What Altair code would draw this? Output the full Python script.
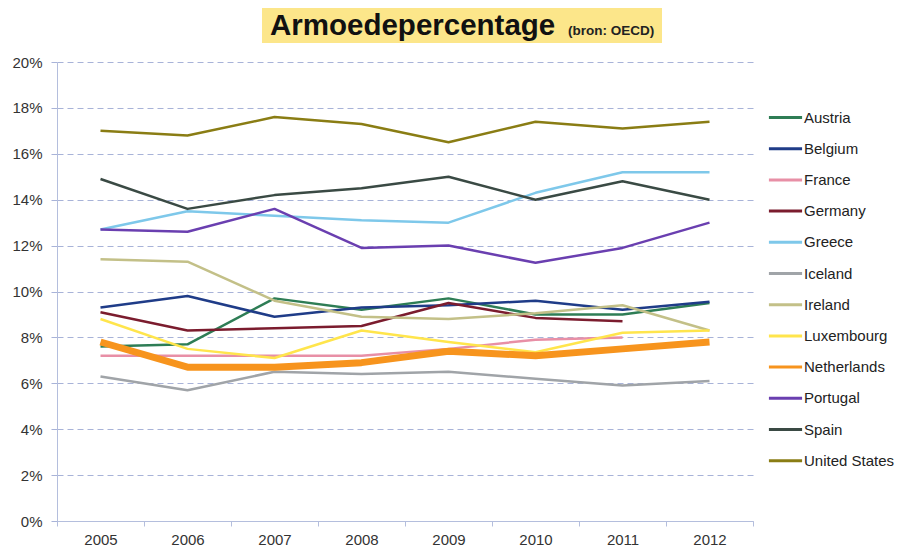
import altair as alt
import pandas as pd

years = [2005, 2006, 2007, 2008, 2009, 2010, 2011, 2012]
countries = ["Austria", "Belgium", "France", "Germany", "Greece", "Iceland",
             "Ireland", "Luxembourg", "Netherlands", "Portugal", "Spain", "United States"]
colors = ["#2E7D55", "#1F3C88", "#E88FA6", "#7B1C2E", "#7EC8EA", "#A0A4A8",
          "#C3C088", "#FFE54C", "#F7941D", "#6A3FB0", "#3A4A44", "#8A7D14"]

austria = [7.6, 7.7, 9.7, 9.2, 9.7, 9.0, 9.0, 9.5]
belgium = [9.3, 9.8, 8.9, 9.3, 9.4, 9.6, 9.2, 9.55]
france = [7.2, 7.2, 7.2, 7.2, 7.5, 7.9, 8.0, None]
germany = [9.1, 8.3, 8.4, 8.5, 9.5, 8.85, 8.7, None]
greece = [12.7, 13.5, 13.3, 13.1, 13.0, 14.3, 15.2, 15.2]
iceland = [6.3, 5.7, 6.5, 6.4, 6.5, 6.2, 5.9, 6.1]
ireland = [11.4, 11.3, 9.6, 8.9, 8.8, 9.05, 9.4, 8.3]
luxembourg = [8.8, 7.5, 7.1, 8.3, 7.8, 7.35, 8.2, 8.3]
netherlands = [7.8, 6.7, 6.7, 6.9, 7.4, 7.2, 7.5, 7.8]
portugal = [12.7, 12.6, 13.6, 11.9, 12.0, 11.25, 11.9, 13.0]
spain = [14.9, 13.6, 14.2, 14.5, 15.0, 14.0, 14.8, 14.0]
united_states = [17.0, 16.8, 17.6, 17.3, 16.5, 17.4, 17.1, 17.4]

series = [austria, belgium, france, germany, greece, iceland, ireland,
          luxembourg, netherlands, portugal, spain, united_states]

title_text = "Armoedepercentage"
source_text = "(bron: OECD)"

rows = []
for c, vals in zip(countries, series):
    for y, v in zip(years, vals):
        if v is not None:
            rows.append({"year": str(y), "country": c, "value": v})
df = pd.DataFrame(rows)

W, H = 696, 459
axis_col = "#B4BEDD"
grid_col = "#A8B3D8"

lines = alt.Chart(df).mark_line(strokeJoin="round").encode(
    x=alt.X("year:O", title=None, bandPosition=0.5,
            scale=alt.Scale(type="band", paddingInner=0, paddingOuter=0),
            axis=alt.Axis(tickBand="extent", labelAngle=0, labelFontSize=15,
                          labelColor="#333333", labelFont="Liberation Sans",
                          domainColor=axis_col, tickColor=axis_col, tickSize=5,
                          labelPadding=6, grid=False)),
    y=alt.Y("value:Q", title=None,
            scale=alt.Scale(domain=[0, 20]),
            axis=alt.Axis(values=list(range(0, 21, 2)), labelExpr="datum.value + '%'",
                          labelFontSize=15, labelColor="#333333", labelFont="Liberation Sans",
                          domainColor=axis_col, tickColor=grid_col, tickSize=7,
                          tickDash=[6, 4], labelPadding=8,
                          grid=True, gridColor=grid_col, gridDash=[6, 4], gridWidth=1)),
    color=alt.Color("country:N", sort=countries,
                    scale=alt.Scale(domain=countries, range=colors),
                    legend=alt.Legend(title=None, orient="none", legendX=710, legendY=37,
                                      symbolType="stroke", symbolSize=1100,
                                      symbolStrokeWidth=3, labelFontSize=15,
                                      labelFont="Liberation Sans", labelColor="#222222",
                                      labelOffset=0, rowPadding=4.2)),
    strokeWidth=alt.condition(alt.datum.country == "Netherlands", alt.value(7), alt.value(2.5)),
    order=alt.Order("country:N"),
)

box = alt.Chart(pd.DataFrame({"a": [0]})).mark_rect(color="#FCE68A").encode(
    x=alt.value(205), x2=alt.value(605), y=alt.value(-54), y2=alt.value(-19)
)
title = alt.Chart(pd.DataFrame({"t": [title_text]})).mark_text(
    align="left", baseline="alphabetic", fontSize=29.5, fontWeight="bold",
    font="Liberation Sans", color="#111111"
).encode(text="t:N", x=alt.value(213), y=alt.value(-27))
source = alt.Chart(pd.DataFrame({"t": [source_text]})).mark_text(
    align="left", baseline="alphabetic", fontSize=13.5, fontWeight="bold",
    font="Liberation Sans", color="#222222"
).encode(text="t:N", x=alt.value(511), y=alt.value(-27))

chart = alt.layer(lines, box, title, source).properties(
    width=W, height=H, padding={"left": 3, "top": 0, "right": 0, "bottom": 0}
).configure_view(stroke=None)

chart.save("out.html", embed_options={"renderer": "svg", "actions": False})
